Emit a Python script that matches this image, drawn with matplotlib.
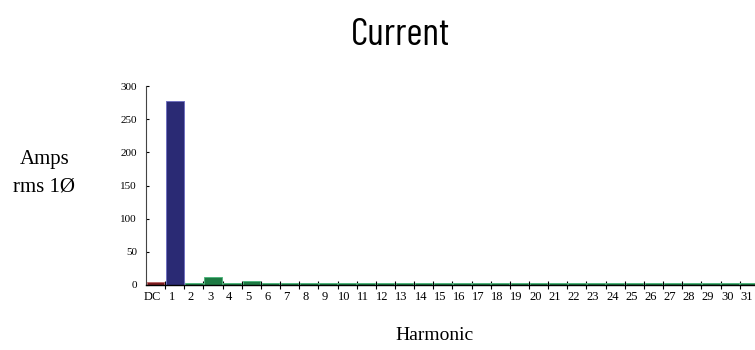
import matplotlib
matplotlib.use("Agg")
import matplotlib.pyplot as plt
from matplotlib.ticker import FixedLocator, MultipleLocator
import numpy as np

# Harmonic spectrum of the phase current
harmonics = ['DC'] + [str(n) for n in range(1, 32)]
amps = [5, 278, 3, 12, 3, 6, 3, 3, 3, 3, 3, 3, 3, 3, 3, 3,
        3, 3, 3, 3, 3, 3, 3, 3, 3, 3, 3, 3, 3, 3, 3, 3]

dc_color = '#7a1c1f'
fund_color = '#2a2a74'
harm_color = '#1d7a43'
serif = 'Liberation Serif'

fig = plt.figure(figsize=(7.55, 3.5), dpi=100)
fig.patch.set_facecolor('white')
ax = fig.add_axes([146 / 755, 65 / 350, 609 / 755, 199 / 350])

x = np.arange(len(harmonics))
colors = [dc_color, fund_color] + [harm_color] * (len(harmonics) - 2)
edges = ['#b86a6a', '#7070c0'] + ['#52b67e'] * (len(harmonics) - 2)
ax.bar(x, amps, width=0.92, color=colors, edgecolor=edges, linewidth=0.7,
       zorder=2)

ax.set_xlim(-0.5, 31.3)
ax.set_ylim(0, 300)

# labels sit just right of the separator ticks
ax.xaxis.set_major_locator(FixedLocator(x - 0.15))
ax.set_xticklabels(harmonics, fontsize=9, family=serif)
ax.tick_params(axis='x', which='major', length=0, pad=4.5)
ax.xaxis.set_minor_locator(FixedLocator(x[:-1] + 0.5))
ax.tick_params(axis='x', which='minor', length=6, direction='inout',
               width=0.8)

ax.yaxis.set_major_locator(MultipleLocator(50))
ax.tick_params(axis='y', length=2.5, width=0.8, direction='in',
               labelsize=8, pad=6.5)
for lab in ax.get_yticklabels():
    lab.set_family(serif)

for side in ['top', 'right']:
    ax.spines[side].set_visible(False)
ax.spines['left'].set_linewidth(0.8)
ax.spines['left'].set_color('#444444')
ax.spines['bottom'].set_linewidth(1.0)
ax.spines['bottom'].set_zorder(3)

fig.text(400 / 755, 1 - 45 / 350, 'Current', ha='center', va='baseline',
         fontsize=28, family='Barlow Condensed')
fig.text(45 / 755, 1 - 164 / 350, 'Amps', ha='center', va='baseline',
         fontsize=15, family=serif)
fig.text(44 / 755, 1 - 192 / 350, 'rms 1Ø', ha='center', va='baseline',
         fontsize=15, family=serif)
fig.text(435 / 755, 1 - 340 / 350, 'Harmonic', ha='center', va='baseline',
         fontsize=14, family=serif)

fig.savefig('out.png', dpi=100)
